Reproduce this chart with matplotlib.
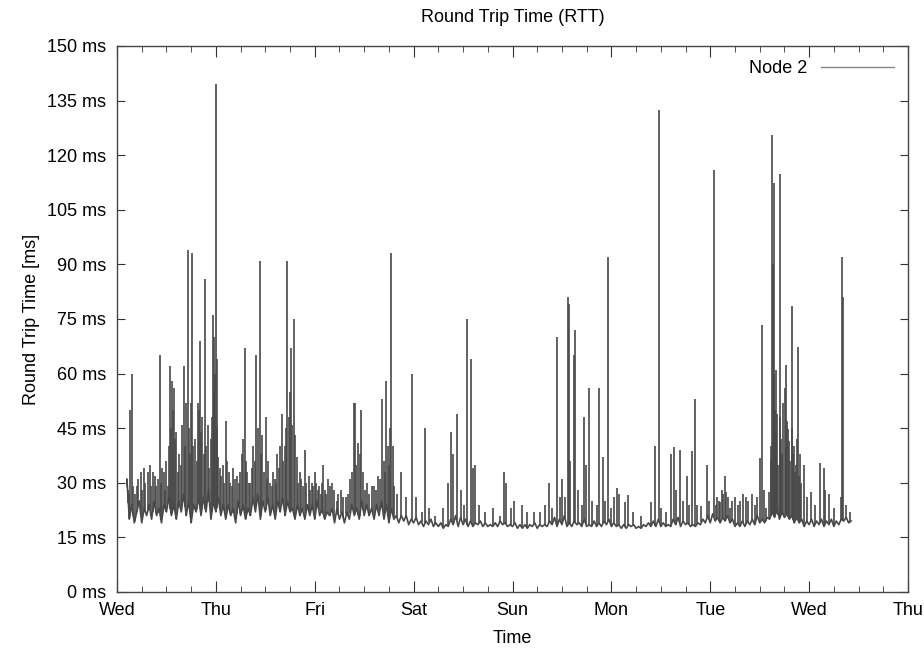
import matplotlib
matplotlib.use("Agg")
import matplotlib.pyplot as plt
import numpy as np
from matplotlib.ticker import MultipleLocator

plt.rcParams['font.family'] = ['Liberation Sans', 'DejaVu Sans']

# time axis in days since the first Wednesday 00:00
day_labels = ['Wed', 'Thu', 'Fri', 'Sat', 'Sun', 'Mon', 'Tue', 'Wed', 'Thu']
ms_ticks = [0, 15, 30, 45, 60, 75, 90, 105, 120, 135, 150]

# baseline RTT samples, one every 0.025 day starting at day 0.1
base_start = 0.1
base_step = 0.025
base_ms = [
    31, 20, 24, 19, 22, 25, 19, 23, 21, 24,
    20, 25, 21, 23, 19, 24, 22, 26, 21, 24,
    20, 25, 22, 27, 21, 25, 19, 24, 22, 26,
    21, 26, 22, 28, 20, 25, 22, 26, 21, 24,
    20, 24, 21, 23, 19, 25, 21, 24, 20, 23,
    21, 26, 22, 27, 20, 25, 22, 26, 21, 24,
    20, 25, 22, 26, 21, 25, 22, 23, 20, 24,
    21, 23, 20, 24, 21, 24, 20, 25, 21, 23,
    20, 22, 21, 23, 19, 23, 20, 22, 19, 22,
    20, 24, 21, 23, 20, 25, 21, 24, 21, 23,
    20, 24, 21, 25, 20, 24, 19, 23, 20, 21,
    19, 21, 19.5, 21, 18.5, 20, 19, 20.5, 18.5, 19.5,
    18, 19.5, 18.5, 20, 18, 19, 18, 19, 17.5, 18.5,
    18, 20, 18.5, 21, 18, 20.5, 18.5, 20, 18, 19.5,
    18, 19, 18.5, 19.5, 18, 19, 18, 18.5, 18, 19,
    18, 19.5, 18.5, 19, 18, 18.5, 18, 19, 17.5, 18.5,
    17.5, 18.5, 17.5, 18.5, 18, 19, 17.5, 18.5, 18, 18.5,
    18, 19.5, 18.5, 20.5, 18, 20, 18.5, 21, 18, 19,
    18, 19.5, 18.5, 19, 18, 20, 18, 18.5, 18, 19.5,
    18, 19, 18, 19.5, 18.5, 20, 18, 19, 18, 18.5,
    17.5, 18.5, 17.5, 18.5, 18, 18.5, 17.5, 18, 17.5, 18.5,
    18, 19, 18, 19.5, 18, 20, 18, 19, 18, 18.5,
    18, 20, 18.5, 20.5, 18, 19.5, 18.5, 19, 18, 18.5,
    18, 19, 18.5, 20, 19, 21, 19, 21.5, 19.5, 20.5,
    19, 20.5, 19.5, 21, 19, 20, 18, 19, 18, 19.5,
    18, 19.5, 18.5, 20, 18.5, 21, 19, 20, 19, 20.5,
    20, 22, 20.5, 23, 20, 22, 20.5, 21.5, 20, 21,
    19, 20.5, 19, 20, 18, 19.5, 18.5, 20, 18, 19.5,
    18.5, 20, 18, 19.5, 18.5, 20, 18, 19.5, 18.5, 20,
    19.5, 20.5, 19, 19.5,
]

# individual spikes (day, ms)
spike_day = [
    0.105, 0.135, 0.152, 0.2, 0.24, 0.27, 0.31, 0.33, 0.38, 0.432, 0.46, 0.50,
    0.541, 0.557, 0.574, 0.60, 0.63, 0.676, 0.716, 0.76, 0.79, 0.821, 0.838,
    0.86, 0.895, 0.92, 0.973, 0.986, 1.0, 1.014, 1.04, 1.07, 1.098, 1.13, 1.17,
    1.21, 1.26, 1.29, 1.33, 1.38, 1.41, 1.443, 1.47, 1.503, 1.53, 1.58, 1.62,
    1.65, 1.669, 1.723, 1.757, 1.787, 1.82, 1.85, 1.899, 1.94, 1.97,
    2.0, 2.04, 2.088, 2.13, 2.17, 2.22, 2.27, 2.32, 2.36, 2.395, 2.405, 2.44,
    2.47, 2.53, 2.58, 2.64, 2.684, 2.724, 2.74, 2.776, 2.79, 2.87, 2.92, 2.986,
    3.02, 3.08, 3.116, 3.16, 3.22, 3.3, 3.35, 3.38, 3.40, 3.435, 3.48, 3.51,
    3.544, 3.582, 3.60, 3.62, 3.66, 3.72, 3.8, 3.87, 3.915, 3.93, 3.98,
    4.02, 4.1, 4.15, 4.22, 4.28, 4.33, 4.367, 4.40, 4.446, 4.48, 4.503, 4.53,
    4.561, 4.57, 4.58, 4.622, 4.636, 4.66, 4.70, 4.724, 4.74, 4.776, 4.80, 4.85,
    4.878, 4.918, 4.94, 4.969, 5.0, 5.027, 5.06, 5.08, 5.14, 5.17, 5.22, 5.3,
    5.40, 5.446, 5.48, 5.50, 5.55, 5.605, 5.633, 5.65, 5.69, 5.72, 5.769, 5.79,
    5.816, 5.844, 5.87, 5.91, 5.969, 5.99, 6.037, 6.06, 6.1,
    6.15, 6.16, 6.2, 6.28, 6.38, 6.45, 6.5, 6.527, 6.56, 6.59, 6.61, 6.625,
    6.635, 6.645, 6.655, 6.67, 6.68, 6.703, 6.72, 6.74, 6.753, 6.764, 6.79,
    6.80, 6.824, 6.85, 6.87, 6.889, 6.92, 6.95, 6.98, 7.02, 7.06, 7.108, 7.149,
    7.16, 7.2, 7.25, 7.32, 7.334, 7.342, 7.37, 7.41,
    # smaller bursts filling the busy periods
    0.115, 0.125, 0.165, 0.18, 0.215, 0.255, 0.285, 0.345, 0.36, 0.395, 0.41,
    0.445, 0.475, 0.485, 0.515, 0.53, 0.548, 0.565, 0.585, 0.615, 0.645, 0.66,
    0.69, 0.70, 0.725, 0.74, 0.75, 0.77, 0.805, 0.83, 0.845, 0.875, 0.905,
    0.935, 0.95, 0.96, 0.98, 0.993, 1.007, 1.025,
    1.055, 1.085, 1.115, 1.145, 1.16, 1.19, 1.23, 1.245, 1.275, 1.30, 1.315,
    1.35, 1.365, 1.395, 1.425, 1.455, 1.485, 1.515, 1.545, 1.565, 1.595, 1.61,
    1.635, 1.68, 1.70, 1.71, 1.735, 1.745, 1.77, 1.80, 1.835, 1.865, 1.88,
    1.915, 1.955, 1.985,
    2.015, 2.03, 2.06, 2.075, 2.1, 2.115, 2.15, 2.19, 2.24, 2.29, 2.34, 2.38,
    2.42, 2.455, 2.49, 2.51, 2.55, 2.6, 2.62, 2.66, 2.70, 2.71, 2.755, 2.765,
    2.80, 2.83,
    6.07, 6.09, 6.12, 6.13, 6.18, 6.22, 6.25, 6.3, 6.33, 6.36, 6.42, 6.47, 6.54,
    6.617, 6.64, 6.65, 6.66, 6.69, 6.71, 6.73, 6.77, 6.78, 6.81, 6.83, 6.84,
    6.86, 6.88, 6.90, 6.91,
]
spike_ms = [
    31, 50, 60, 29, 33, 34, 33, 35, 32, 65, 34, 36,
    62, 58, 56, 44, 38, 62, 94, 93, 42, 52, 69,
    48, 86, 46, 76, 70, 139.5, 64, 34, 35, 47, 33, 34,
    32, 38, 67, 30, 40, 65, 91, 43, 48, 36, 33, 38,
    40, 49, 91, 67, 75, 37, 33, 39, 32, 30,
    33, 29, 35, 31, 30, 25, 28, 26, 31, 52, 52, 41,
    50, 30, 29, 32, 53, 58, 40, 93, 40, 33, 26, 60,
    26, 22, 45, 23, 21, 23, 30, 44, 38, 49, 28, 24,
    75, 64, 34, 35, 24, 22, 23, 21, 33, 30, 23,
    25, 24, 22, 22, 22, 24, 30, 23, 70, 26, 31, 26,
    81, 79, 36, 65, 72, 28, 24, 48, 35, 56, 25, 24,
    56, 37, 25, 92, 23, 26, 28.6, 27, 24.6, 26.6, 22, 21,
    24.6, 40, 132.5, 23, 22, 38, 39.7, 28, 39, 25, 32, 24,
    38.7, 53, 24, 23.6, 35, 25, 116, 24, 24.6,
    32, 27.6, 23, 24, 25, 24, 36.7, 73.4, 23, 27.6, 36, 125.6,
    90, 112.3, 37.4, 61, 48.8, 114.8, 42, 52, 56, 62.4, 44.8,
    41.4, 78.5, 40, 35, 67.3, 30, 35, 26, 27.6, 24, 35.5, 34,
    28, 27, 23, 26, 92, 81, 24, 22,
    # smaller bursts
    28, 27, 29, 27, 31, 28, 30, 29, 33, 29, 31,
    30, 33, 28, 29, 40, 45, 50, 42, 33, 35, 46,
    40, 52, 45, 38, 52, 40, 36, 50, 44, 38, 40,
    34, 42, 48, 55, 60, 45, 37,
    32, 30, 36, 30, 29, 31, 30, 33, 42, 36, 33,
    30, 34, 36, 45, 38, 33, 31, 30, 29, 31, 30,
    34, 36, 40, 45, 48, 55, 46, 43, 30, 31, 29,
    30, 28, 29,
    30, 28, 27, 30, 28, 27, 29, 28, 27, 26, 27, 33,
    35, 38, 33, 28, 27, 29, 28, 31, 36, 33, 35, 45,
    29, 27,
    26, 25, 28, 27, 26, 25, 26, 25, 27, 26, 27, 26, 28,
    40, 60, 50, 45, 35, 48, 38, 40, 47, 36, 45, 38,
    33, 42, 32, 38,
]

base_day = base_start + base_step * np.arange(len(base_ms))
# spikes rise straight up from the baseline level at that moment
spike_floor = np.interp(spike_day, base_day, base_ms)

line_color = '#484848'

fig = plt.figure(figsize=(9.24, 6.48), dpi=100)
ax = fig.add_axes([117 / 924, 1 - 592 / 648, (908 - 117) / 924, (592 - 46) / 648])

ax.plot(base_day, base_ms, color=line_color, lw=1.2, label='Node 2')
ax.vlines(spike_day, spike_floor, spike_ms, color=line_color, lw=1.2)

ax.set_xlim(0, 8)
ax.set_ylim(0, 150)
ax.set_xticks(range(len(day_labels)))
ax.set_xticklabels(day_labels)
ax.xaxis.set_minor_locator(MultipleLocator(0.25))
ax.set_yticks(ms_ticks)
ax.set_yticklabels(['%d ms' % v for v in ms_ticks])

ax.tick_params(which='both', direction='in', top=True, right=True,
               labelsize=13, color='#333333')
ax.tick_params(axis='x', which='major', length=8, pad=7)
ax.tick_params(axis='x', which='minor', length=4)
ax.tick_params(axis='y', which='major', length=6, pad=8)
for sp in ax.spines.values():
    sp.set_color('#444444')
    sp.set_linewidth(1.0)

ax.set_title('Round Trip Time (RTT)', fontsize=13, pad=17)
ax.set_xlabel('Time', fontsize=13, labelpad=8)
ax.set_ylabel('Round Trip Time [ms]', fontsize=13, labelpad=5)

leg = ax.legend(loc='upper right', frameon=False, markerfirst=False,
                fontsize=13, handlelength=4.0, borderaxespad=0.4)
leg.get_lines()[0].set_color('#888888')
leg.get_lines()[0].set_linewidth(1.0)

fig.savefig('out.png', dpi=100)
